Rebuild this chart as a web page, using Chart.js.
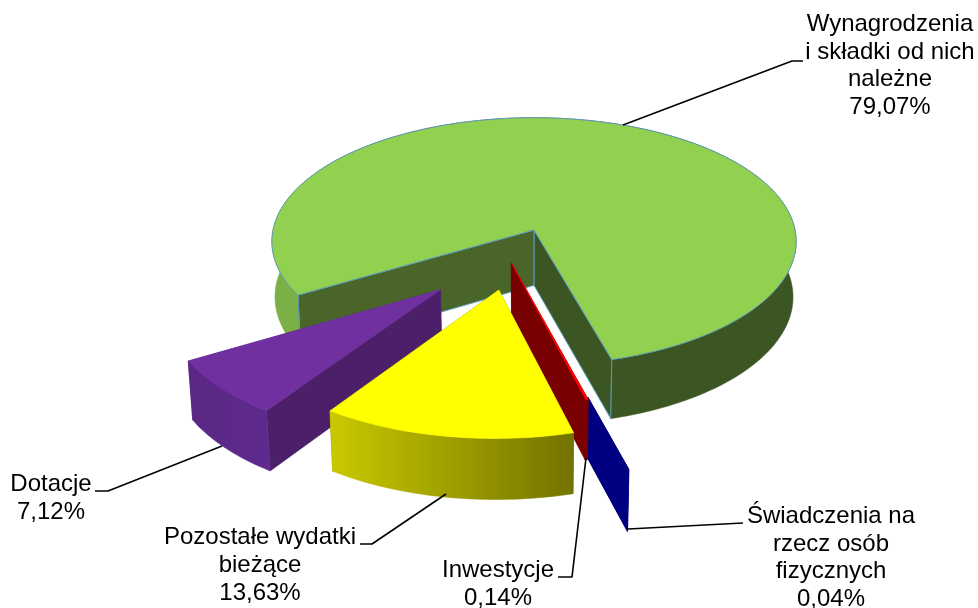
<!DOCTYPE html>
<html lang="pl">
<head>
<meta charset="utf-8">
<style>html,body{margin:0;padding:0;background:#fff;overflow:hidden}canvas{display:block}</style>
<script src="https://cdn.jsdelivr.net/npm/chart.js@4/dist/chart.umd.min.js"></script>
</head>
<body>
<canvas id="c" width="978" height="608"></canvas>
<script>
const categories = [
  ['Wynagrodzenia', 'i składki od nich', 'należne'],
  ['Świadczenia na', 'rzecz osób', 'fizycznych'],
  ['Inwestycje'],
  ['Pozostałe wydatki', 'bieżące'],
  ['Dotacje']
];
const shares = [79.07, 0.04, 0.14, 13.63, 7.12];
const topColors = ['#92D050', '#000080', '#FF0000', '#FFFF00', '#7030A0'];

/* presentation settings (not data) */
const startWallColors = ['#4A6529', '#000080', '#780000', '#808000', '#4B2069'];
const endWallColors = ['#3B5523', '#000080', '#780000', '#808000', '#5C2789'];
const rimGradients = [
  [[0, '#7AB046'], [0.1, '#7AB046'], [0.1001, '#3B5523'], [1, '#3B5523']],
  [[0, '#000080'], [1, '#000080']],
  [[0, '#780000'], [1, '#780000']],
  [[0, '#C9C900'], [1, '#737300']],
  [[0, '#5A2784'], [1, '#5F2A8E']]
];
const explode = [[0, 0], [0.183, 1.21], [-0.085, 0.261], [-0.129, 0.468], [-0.343, 0.466]];
const radial = [1, 0.46, 1, 1, 1];
const drawOrder = [0, 4, 1, 2, 3];
const view = {shiftX: 45, shiftY: -74, discScale: 261 / 304, squash: 0.47, persp: 0.0926, depth: 56, depthPersp: 0.012};
const labelPlaces = [
  {x: 890, y: 31, step: 27.5},
  {x: 831, y: 523, step: 27.5},
  {x: 498, y: 577, step: 28},
  {x: 260, y: 544, step: 28},
  {x: 51, y: 491, step: 27.5}
];
const leaders = [
  [[623, 125], [792, 61], [803, 61]],
  [[628, 529], [743, 523]],
  [[586, 458], [572, 577], [558, 577]],
  [[446, 494], [372, 544], [360, 544]],
  [[222, 446], [108, 491], [95, 491]]
];

function percent(v) { return v.toFixed(2).replace('.', ',') + '%'; }

const pie3d = {
  id: 'pie3d',
  beforeDatasetsDraw(chart) {
    const ctx = chart.ctx;
    const arcs = chart.getDatasetMeta(0).data;
    const first = arcs[0];
    const cx = first.x + view.shiftX, cy = first.y + view.shiftY;
    const R = first.outerRadius * view.discScale;
    const proj = (u, v, z) => {
      const w = 1 - view.persp * v + view.depthPersp * z;
      return [cx + R * u / w, cy + (R * view.squash * v + view.depth * z) / w];
    };
    const fillPoly = (pts, fill, stroke) => {
      ctx.beginPath();
      pts.forEach((p, i) => i ? ctx.lineTo(p[0], p[1]) : ctx.moveTo(p[0], p[1]));
      ctx.closePath();
      ctx.fillStyle = fill;
      ctx.fill();
      ctx.strokeStyle = stroke || fill;
      ctx.lineWidth = stroke ? 1 : 0.6;
      ctx.stroke();
    };
    drawOrder.forEach(i => {
      const a0 = arcs[i].startAngle, a1 = arcs[i].endAngle;
      const ex = explode[i][0], ey = explode[i][1], r = radial[i];
      const n = Math.max(2, Math.ceil((a1 - a0) / 0.02));
      const rim = z => {
        const out = [];
        for (let k = 0; k <= n; k++) {
          const t = a0 + (a1 - a0) * k / n;
          out.push(proj(ex + r * Math.cos(t), ey + r * Math.sin(t), z));
        }
        return out;
      };
      const stroke = i === 0 ? '#5F9BB8' : null;
      const tipTop = proj(ex, ey, 0), tipBot = proj(ex, ey, 1);
      const rimTop = rim(0), rimBot = rim(1);
      fillPoly([tipTop, rimTop[n], rimBot[n], tipBot], endWallColors[i], stroke);
      fillPoly([tipTop, rimTop[0], rimBot[0], tipBot], startWallColors[i], stroke);
      const xs = rimTop.concat(rimBot).map(p => p[0]);
      const g = ctx.createLinearGradient(Math.min(...xs), 0, Math.max(...xs), 0);
      rimGradients[i].forEach(s => g.addColorStop(s[0], s[1]));
      fillPoly(rimTop.concat(rimBot.slice().reverse()), g, null);
      if (i === 0) {
        [0, n].forEach(k => {
          ctx.beginPath();
          ctx.moveTo(rimTop[k][0], rimTop[k][1]);
          ctx.lineTo(rimBot[k][0], rimBot[k][1]);
          ctx.strokeStyle = stroke; ctx.lineWidth = 1; ctx.stroke();
        });
      }
      fillPoly([tipTop].concat(rimTop), arcs[i].options.backgroundColor, stroke);
    });
    return false;
  },
  afterDraw(chart) {
    const ctx = chart.ctx;
    ctx.save();
    ctx.strokeStyle = '#000';
    ctx.lineWidth = 1.6;
    ctx.lineJoin = 'round';
    leaders.forEach(l => {
      ctx.beginPath();
      l.forEach((p, i) => i ? ctx.lineTo(p[0], p[1]) : ctx.moveTo(p[0], p[1]));
      ctx.stroke();
    });
    ctx.fillStyle = '#000';
    ctx.font = '24px "Liberation Sans", Arial, sans-serif';
    ctx.textAlign = 'center';
    ctx.textBaseline = 'alphabetic';
    categories.forEach((lines, i) => {
      const p = labelPlaces[i];
      lines.concat(percent(shares[i])).forEach((t, j) => ctx.fillText(t, p.x, p.y + j * p.step));
    });
    ctx.restore();
  }
};

new Chart(document.getElementById('c'), {
  type: 'pie',
  data: {
    labels: categories,
    datasets: [{data: shares, backgroundColor: topColors, borderWidth: 0}]
  },
  options: {
    responsive: false,
    animation: false,
    rotation: 239.6,
    layout: {padding: 0},
    plugins: {legend: {display: false}, tooltip: {enabled: false}}
  },
  plugins: [pie3d]
});
</script>
</body>
</html>
